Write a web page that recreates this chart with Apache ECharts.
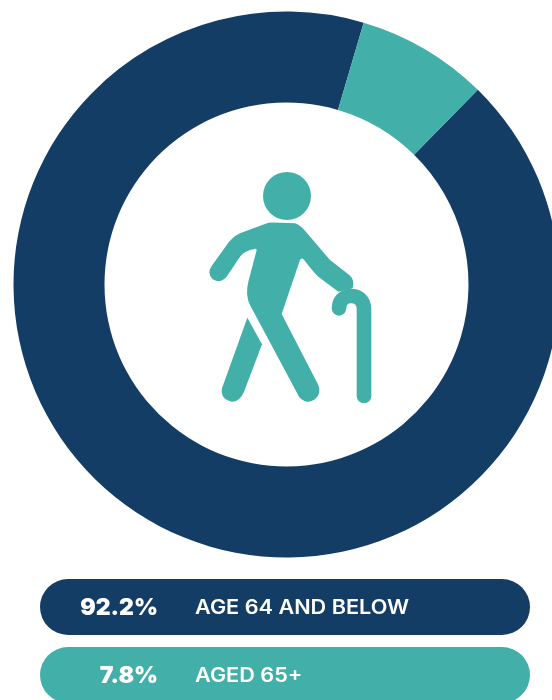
<!DOCTYPE html>
<html>
<head>
<meta charset="utf-8">
<title>Age share</title>
<script src="https://cdn.jsdelivr.net/npm/echarts@6/dist/echarts.min.js"></script>
<style>
html, body { margin: 0; padding: 0; background: #fff; overflow: hidden; }
#chart { width: 552px; height: 700px; }
</style>
</head>
<body>
<div id="chart"></div>
<script>
var categories = ['AGE 64 AND BELOW', 'AGED 65+'];
var values = [92.2, 7.8];
var valueLabels = ['92.2%', '7.8%'];
var colors = ['#143d66', '#42afa8'];

var pillTop = [579, 647];

var myChart = echarts.init(document.getElementById('chart'), null, { renderer: 'canvas' });

// 图标：头、身体、后腿、拐杖（路径按放大3倍的坐标描的）
function renderIcon() {
    return {
        type: 'group',
        x: 190,
        y: 160,
        scaleX: 1 / 3,
        scaleY: 1 / 3,
        children: [
            { type: 'circle', shape: { cx: 291, cy: 108, r: 72 }, style: { fill: colors[1] } },
            {
                type: 'path',
                shape: {
                    pathData: 'M65 318 L108 258 Q125 232 150 220 L235 188 Q245 186 315 190 Q330 195 345 212 L420 300 L478 345 Q495 360 488 385 L445 395 L385 350 Q375 342 340 297 Q335 293 330 300 L275 462 L385 675 Q395 700 375 718 Q350 735 328 712 L180 435 Q165 405 175 365 L200 270 Q198 263 190 268 Q165 272 150 290 L110 350 Q90 372 68 358 Q50 340 65 318 Z'
                },
                style: { fill: colors[1] }
            },
            {
                type: 'path',
                shape: {
                    pathData: 'M172 473 L216 553 L162 695 Q150 725 125 725 Q90 718 96 685 Z'
                },
                style: { fill: colors[1] }
            },
            {
                type: 'path',
                shape: {
                    pathData: 'M522 708 L522 450 C522 420 505 408 482 408 C460 408 447 425 447 445'
                },
                style: { fill: 'none', stroke: colors[1], lineWidth: 44, lineCap: 'round' }
            }
        ]
    };
}

// 下面两条说明
var graphics = [];
for (var i = 0; i < categories.length; i++) {
    graphics.push({
        type: 'rect',
        shape: { x: 40, y: pillTop[i], width: 490, height: 56, r: 28 },
        style: { fill: colors[i] }
    });
    graphics.push({
        type: 'text',
        x: 158,
        y: pillTop[i] + 29.5,
        style: {
            text: valueLabels[i],
            fill: '#fff',
            font: '900 23px Inter, "Noto Sans", sans-serif',
            textAlign: 'right',
            textVerticalAlign: 'middle'
        }
    });
    // 原图字体更宽，这里横向拉一点
    graphics.push({
        type: 'text',
        x: 195,
        y: pillTop[i] + 29.5,
        scaleX: 1.11,
        style: {
            text: categories[i],
            fill: '#fff',
            font: '600 19.5px Inter, "Noto Sans", sans-serif',
            textAlign: 'left',
            textVerticalAlign: 'middle'
        }
    });
}

var option = {
    animation: false,
    backgroundColor: '#fff',
    series: [{
        type: 'pie',
        center: [286.5, 284.5],
        radius: [182, 273],
        startAngle: 45.5,
        clockwise: true,
        silent: true,
        label: { show: false },
        labelLine: { show: false },
        data: categories.map(function (name, idx) {
            return { name: name, value: values[idx], itemStyle: { color: colors[idx] } };
        })
    }, {
        type: 'custom',
        coordinateSystem: 'none',
        silent: true,
        data: [0],
        renderItem: renderIcon
    }],
    graphic: { elements: graphics }
};

myChart.setOption(option);
window.addEventListener('resize', function () {
    myChart.resize();
});
</script>
</body>
</html>
